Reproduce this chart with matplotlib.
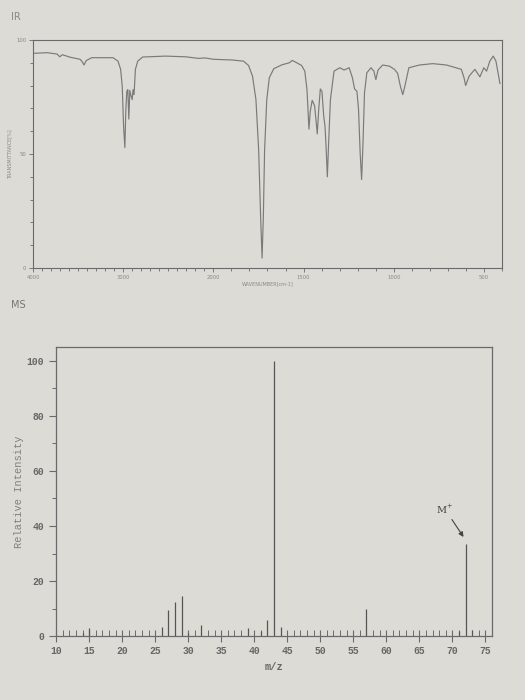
import numpy as np
import matplotlib
matplotlib.use("Agg")
import matplotlib.pyplot as plt
from matplotlib.ticker import FixedLocator, MultipleLocator

# ================= DATA =================
# IR trace: wavenumber (cm-1) and transmittance (%)
ir_wavenumber = [4000, 3843, 3734, 3704, 3675, 3588, 3478, 3453, 3434, 3412,
                 3350, 3113, 3058, 3029, 3011, 2996, 2982, 2971, 2960, 2949,
                 2938, 2927, 2912, 2901, 2891, 2880, 2865, 2839, 2785, 2529,
                 2310, 2164, 2091, 2000, 1898, 1833, 1805, 1783, 1764, 1749,
                 1738, 1730, 1723, 1716, 1704, 1690, 1665, 1619, 1578, 1563,
                 1545, 1511, 1493, 1481, 1470, 1463, 1452, 1439, 1431, 1424,
                 1416, 1407, 1398, 1388, 1381, 1375, 1368, 1361, 1351, 1331,
                 1299, 1275, 1247, 1229, 1217, 1204, 1195, 1186, 1178, 1171,
                 1162, 1149, 1126, 1110, 1099, 1087, 1061, 1024, 996, 978,
                 963, 950, 939, 916, 857, 783, 708, 625, 610, 601,
                 582, 550, 522, 500, 485, 467, 448, 433, 420, 411]
ir_transmittance = [94.1, 94.4, 93.8, 92.6, 93.5, 92.4, 91.5, 90.3, 89.0, 90.9,
                    92.2, 92.2, 90.7, 87.1, 79.7, 62.1, 52.8, 69.4, 77.5, 78.2,
                    65.3, 77.9, 75.3, 73.8, 78.2, 76.0, 87.1, 90.7, 92.5, 92.9,
                    92.6, 91.9, 92.1, 91.5, 91.2, 90.7, 88.8, 84.1, 73.8, 51.8,
                    22.4, 4.4, 22.4, 51.8, 73.8, 83.4, 87.4, 89.1, 90.0, 91.0,
                    90.3, 88.8, 86.3, 78.2, 60.9, 68.7, 73.5, 71.2, 65.0, 58.8,
                    69.4, 78.5, 77.5, 66.5, 62.1, 53.2, 40.0, 54.7, 73.8, 86.3,
                    87.8, 86.8, 87.8, 83.4, 78.5, 77.5, 69.4, 50.3, 38.8, 53.2,
                    76.8, 85.6, 87.8, 86.3, 82.6, 86.8, 89.0, 88.5, 87.1, 85.3,
                    79.7, 76.0, 79.4, 87.8, 89.0, 89.6, 89.0, 87.1, 83.4, 80.0,
                    84.1, 87.1, 83.8, 87.8, 86.3, 90.7, 92.9, 90.7, 84.9, 80.9]
ir_tick_values = [4000, 3000, 2000, 1500, 1000, 500]

# MS peaks: m/z and relative intensity
ms_mz = [14, 15, 26, 27, 28, 29, 30, 32, 39, 41, 42, 43, 44, 57, 71, 72, 73]
ms_intensity = [1.0, 3.0, 3.2, 9.5, 12.4, 14.4, 1.2, 3.9, 3.0, 1.9, 5.8, 100,
                3.1, 9.8, 1.7, 33.5, 2.1]
ms_xticks = [10, 15, 20, 25, 30, 35, 40, 45, 50, 55, 60, 65, 70, 75]
ms_yticks = [0, 20, 40, 60, 80, 100]

paper = "#dcdbd6"
ink = "#6a6a6a"
mono = ["Liberation Mono", "DejaVu Sans Mono"]


# two linear pieces: 4000-2000 compressed, 2000-400 expanded
def ir_forward(w):
    w = np.asarray(w, dtype=float)
    return np.where(w <= 2000, w / 1000.0, 2.0 + (w - 2000.0) / 2000.0)


def ir_inverse(u):
    u = np.asarray(u, dtype=float)
    return np.where(u <= 2.0, u * 1000.0, 2000.0 + (u - 2.0) * 2000.0)


fig = plt.figure(figsize=(5.25, 7), dpi=100, facecolor=paper)

# ================= IR =================
ax1 = fig.add_axes([0.063, 0.617, 0.893, 0.326], facecolor=paper)
ax1.set_xscale("function", functions=(ir_forward, ir_inverse))
ax1.plot(ir_wavenumber, ir_transmittance, color="#7a7a7a", lw=0.85)
ax1.set_xlim(4000, 400)
ax1.set_ylim(0, 100)
ax1.xaxis.set_major_locator(FixedLocator(ir_tick_values))
ax1.xaxis.set_minor_locator(FixedLocator(list(range(4000, 399, -100))))
ax1.set_xticklabels([str(v) for v in ir_tick_values])
ax1.yaxis.set_major_locator(FixedLocator([0, 50, 100]))
ax1.yaxis.set_minor_locator(MultipleLocator(10))
ax1.tick_params(which="both", colors=ink, labelsize=3.8, width=0.6, labelcolor="#888888")
ax1.tick_params(which="major", length=3, pad=2)
ax1.tick_params(which="minor", length=2)
ax1.set_xlabel("WAVENUMBER[cm-1]", fontsize=3.5, color="#888888", labelpad=1)
ax1.set_ylabel("TRANSMITTANCE[%]", fontsize=3.5, color="#888888", labelpad=3)
for s in ax1.spines.values():
    s.set_color(ink)
    s.set_linewidth(0.8)

fig.text(0.02, 0.975, "IR", fontsize=7, color="#888888", ha="left", va="center")
fig.text(0.02, 0.564, "MS", fontsize=7, color="#777777", ha="left", va="center")

# ================= MS =================
ax2 = fig.add_axes([0.107, 0.0914, 0.830, 0.4126], facecolor=paper)
ax2.vlines(ms_mz, 0, ms_intensity, color="#555555", lw=0.9)
ax2.set_xlim(10, 76)
ax2.set_ylim(0, 105)
ax2.set_xticks(ms_xticks)
ax2.xaxis.set_minor_locator(MultipleLocator(1))
ax2.set_yticks(ms_yticks)
ax2.yaxis.set_minor_locator(MultipleLocator(10))
ax2.tick_params(axis="x", which="major", direction="inout", length=9, width=0.8, pad=3)
ax2.tick_params(axis="x", which="minor", direction="in", length=4, width=0.7)
ax2.tick_params(axis="y", which="major", direction="out", length=5, width=0.8)
ax2.tick_params(axis="y", which="minor", direction="out", length=3, width=0.7)
ax2.tick_params(which="both", colors=ink, labelcolor="#666666", labelsize=7)
for lab in ax2.get_xticklabels() + ax2.get_yticklabels():
    lab.set_family(mono)
    lab.set_fontweight("bold")
ax2.set_xlabel("m/z", fontsize=7.5, color="#666666", family=mono, fontweight="bold", labelpad=4)
ax2.set_ylabel("Relative Intensity", fontsize=7.5, color="#808080", family=mono, labelpad=2)
for s in ax2.spines.values():
    s.set_color(ink)
    s.set_linewidth(0.9)

ax2.annotate("M$^{+}$", xy=(71.7, 36), xytext=(67.6, 44.5), fontsize=7,
             family="DejaVu Serif", color="#444444",
             arrowprops=dict(arrowstyle="-|>", color="#444444", lw=0.8,
                             mutation_scale=7, shrinkA=1, shrinkB=0))

fig.savefig("out.png", dpi=100, facecolor=paper)
